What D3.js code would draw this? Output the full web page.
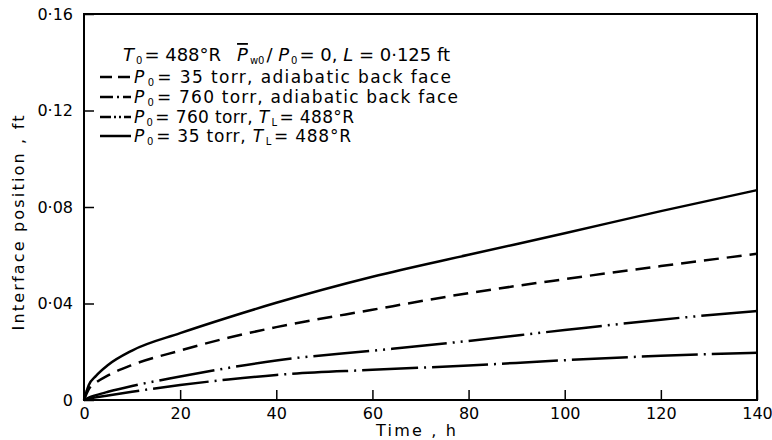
<!DOCTYPE html>
<html>
<head>
<meta charset="utf-8">
<script src="https://cdn.jsdelivr.net/npm/d3@7"></script>
<style>
  body { margin: 0; background: #fff; }
  svg { font-family: "DejaVu Sans", sans-serif; }
</style>
</head>
<body>
<div id="chart"></div>
<script>
// Time, h
var times = [0, 1, 2.5, 5, 10, 20, 30, 40, 60, 80, 100, 120, 140];

// Interface position, ft
var p35Fixed     = [0, 0.0062, 0.0100, 0.0145, 0.0205, 0.0277, 0.0342, 0.0403, 0.0511, 0.0602, 0.0691, 0.0783, 0.0870];
var p35Adiabatic = [0, 0.0045, 0.0072, 0.0102, 0.0145, 0.0205, 0.0258, 0.0302, 0.0374, 0.0443, 0.0501, 0.0555, 0.0606];
var p760Fixed    = [0, 0.0010, 0.0020, 0.0034, 0.0058, 0.0097, 0.0133, 0.0164, 0.0204, 0.0245, 0.0290, 0.0333, 0.0369];
var p760Adiab    = [0, 0.0005, 0.0011, 0.0019, 0.0034, 0.0062, 0.0085, 0.0104, 0.0125, 0.0143, 0.0165, 0.0183, 0.0196];

var xTicks = [0, 20, 40, 60, 80, 100, 120, 140];
var yTicks = [0, 0.04, 0.08, 0.12, 0.16];

var width = 772, height = 440;

var svg = d3.select("#chart").append("svg")
    .attr("width", width)
    .attr("height", height);

var x = d3.scaleLinear().domain([0, 140]).range([84, 757]);
var y = d3.scaleLinear().domain([0, 0.16]).range([400, 14]);

function fmt(d) {
    if (d === 0) return "0";
    return d3.format(".2f")(d).replace(".", "\u00B7");
}

// axes, ticks pointing inward
var xAxis = svg.append("g")
    .attr("transform", "translate(0," + y(0) + ")")
    .call(d3.axisBottom(x).tickValues(xTicks).tickSizeInner(-10).tickSizeOuter(0).tickPadding(8)
        .tickFormat(d3.format("d")));

var yAxis = svg.append("g")
    .attr("transform", "translate(" + x(0) + ",0)")
    .call(d3.axisLeft(y).tickValues(yTicks).tickSizeInner(-10).tickSizeOuter(0).tickPadding(11)
        .tickFormat(fmt));

[xAxis, yAxis].forEach(function(a) {
    a.select(".domain").remove();
    a.selectAll("line").attr("stroke", "#000").attr("stroke-width", 1.5);
    a.selectAll("text").attr("font-size", 16).attr("fill", "#000")
        .attr("font-family", "DejaVu Sans");
});

// frame
svg.append("rect")
    .attr("x", x(0)).attr("y", y(0.16))
    .attr("width", x(140) - x(0)).attr("height", y(0) - y(0.16))
    .attr("fill", "none").attr("stroke", "#000").attr("stroke-width", 2);

// axis titles
svg.append("text")
    .attr("x", 416).attr("y", 436)
    .attr("text-anchor", "middle").attr("font-size", 16)
    .attr("textLength", 80).attr("lengthAdjust", "spacing")
    .text("Time , h");

svg.append("text")
    .attr("transform", "translate(24,223) rotate(-90)")
    .attr("text-anchor", "middle").attr("font-size", 16)
    .attr("textLength", 215).attr("lengthAdjust", "spacing")
    .text("Interface position , ft");

// curves
var series = [
    { values: p35Adiabatic, dash: "15,8",                 legend: "12,6" },
    { values: p760Adiab,    dash: "56,6,2,6",             legend: "13,4,2,4" },
    { values: p760Fixed,    dash: "56,6,2,6,2,6",         legend: "11,3,2,3,2,3" },
    { values: p35Fixed,     dash: null,                   legend: null }
];

var line = d3.line()
    .x(function(d) { return x(d[0]); })
    .y(function(d) { return y(d[1]); })
    .curve(d3.curveMonotoneX);

series.forEach(function(s) {
    svg.append("path")
        .datum(times.map(function(t, i) { return [t, s.values[i]]; }))
        .attr("fill", "none")
        .attr("stroke", "#000")
        .attr("stroke-width", 2.5)
        .attr("stroke-dasharray", s.dash)
        .attr("d", line);
});

// legend
var legend = svg.append("g").attr("font-size", 17);

// subscript, then back to the baseline
function sub(t, s, after) {
    t.append("tspan").attr("font-size", 10).attr("dx", 2).attr("dy", 3).text(s);
    return t.append("tspan").attr("dx", 2).attr("dy", -3).text(after);
}

var title = legend.append("text").attr("x", 123).attr("y", 61)
    .attr("font-size", 18);
title.append("tspan").attr("font-style", "italic").text("T");
sub(title, "0", "= 488\u00B0R");
title.append("tspan").attr("dx", 16).attr("font-style", "italic").style("text-decoration", "overline").text("P");
sub(title, "w0", "/ ");
title.append("tspan").attr("font-style", "italic").text("P");
sub(title, "0", "= 0, ");
title.append("tspan").attr("font-style", "italic").text("L");
title.append("tspan").text(" = 0\u00B7125 ft");

var rows = [
    { pressure: "35 torr", tail: ", adiabatic back face", fixed: false, len: 317 },
    { pressure: "760 torr", tail: ", adiabatic back face", fixed: false, len: 324 },
    { pressure: "760 torr", tail: "", fixed: true, len: 220 },
    { pressure: "35  torr", tail: "", fixed: true, len: 217 }
];
var rowY = [83, 103, 123, 142];

rows.forEach(function(r, i) {
    var yy = rowY[i];
    legend.append("line")
        .attr("x1", 100).attr("x2", 131)
        .attr("y1", yy - 6).attr("y2", yy - 6)
        .attr("stroke", "#000").attr("stroke-width", 2.5)
        .attr("stroke-dasharray", series[i].legend);

    var t = legend.append("text").attr("x", 134).attr("y", yy)
        .attr("textLength", r.len).attr("lengthAdjust", "spacing");
    t.append("tspan").attr("font-style", "italic").text("P");
    sub(t, "0", "= " + r.pressure + r.tail);
    if (r.fixed) {
        t.append("tspan").text(", ");
        t.append("tspan").attr("font-style", "italic").text("T");
        sub(t, "L", "= 488\u00B0R");
    }
});
</script>
</body>
</html>
